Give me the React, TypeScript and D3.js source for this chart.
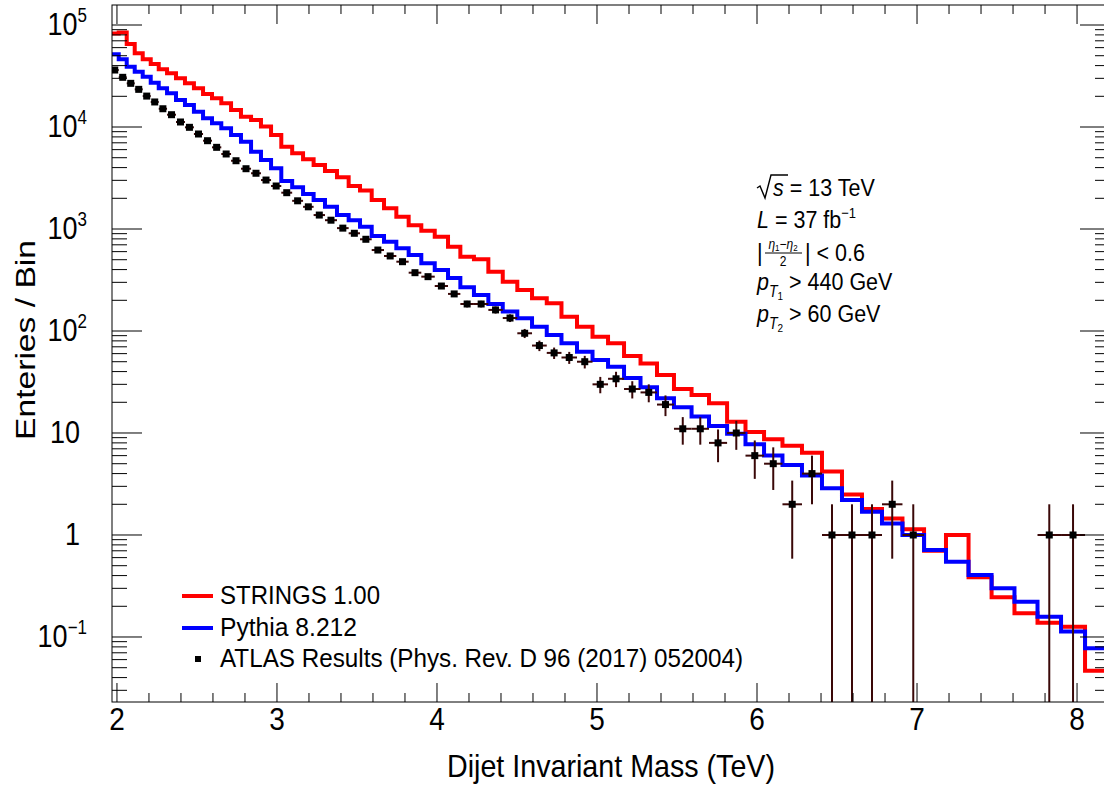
import React from "react";
import * as d3 from "d3";

// Bin edges (TeV)
const binEdgesTeV = [1.961, 2.011, 2.061, 2.111, 2.161, 2.211, 2.261, 2.313, 2.369, 2.425, 2.481, 2.538, 2.594, 2.652, 2.713, 2.775, 2.838, 2.9, 2.963, 3.027, 3.095, 3.163, 3.229, 3.3, 3.375, 3.448, 3.519, 3.592, 3.669, 3.746, 3.823, 3.902, 3.986, 4.069, 4.146, 4.231, 4.321, 4.411, 4.502, 4.594, 4.686, 4.778, 4.875, 4.972, 5.069, 5.169, 5.272, 5.375, 5.481, 5.591, 5.7, 5.813, 5.928, 6.044, 6.159, 6.281, 6.406, 6.531, 6.656, 6.781, 6.909, 7.044, 7.181, 7.322, 7.466, 7.609, 7.753, 7.9, 8.05, 8.206];

const stringsCounts = [82500, 84400, 65100, 52800, 46100, 41500, 36800, 33600, 30000, 26800, 24000, 21100, 19100, 17100, 14700, 12600, 11700, 10100, 8350, 6410, 5520, 4830, 4240, 3700, 3210, 2640, 2380, 1920, 1600, 1320, 1090, 962, 841, 671, 535, 505, 381, 304, 252, 209, 187, 138, 110, 88, 76, 57, 48, 37, 27, 23.6, 19.6, 12.9, 10.2, 8.7, 7.5, 6.4, 4.2, 2.5, 1.8, 1.45, 1.14, 0.7, 1.0, 0.385, 0.245, 0.171, 0.138, 0.126, 0.0467];

const pythiaCounts = [51600, 46100, 39000, 34800, 31100, 27200, 24000, 21400, 18400, 16400, 14100, 12200, 10900, 9710, 8350, 7180, 5730, 4750, 3940, 2960, 2560, 2200, 1920, 1650, 1370, 1220, 1050, 854, 751, 647, 556, 461, 396, 331, 268, 225, 184, 155, 133, 110, 91.4, 75.8, 62.7, 52, 44.7, 34.6, 28.1, 21.9, 17.9, 14.5, 11.7, 9.84, 7.77, 6.02, 4.86, 3.83, 2.87, 2.2, 1.69, 1.3, 1.0, 0.713, 0.547, 0.405, 0.3, 0.222, 0.158, 0.113, 0.0775];

const atlasCounts = [36200, 30700, 26800, 23400, 20100, 17600, 15100, 13200, 11200, 9930, 8540, 7340, 6320, 5440, 4670, 3900, 3520, 3020, 2640, 2270, 1890, 1650, 1370, 1220, 1020, 908, 793, 622, 544, 478, 373, 341, 276, 231, 184, 184, 161, 134, 95, 72, 61, 55, 50, 30, 34, 27, 25, 19, 11, 11, 8, 10, 6, 5, 2, 4, 1, 1, 1, 2, 1, 0, 0, 0, 0, 0, 1, 1, 0];

const xMajorTicks = [2, 3, 4, 5, 6, 7, 8];
const xTickLabels = ["2", "3", "4", "5", "6", "7", "8"];
const yDecades = [-1, 0, 1, 2, 3, 4, 5];

const legendLabels = ["STRINGS 1.00", "Pythia 8.212", "ATLAS Results (Phys. Rev. D 96 (2017) 052004)"];

const FONT = "'Liberation Sans', Arial, Helvetica, sans-serif";
const SY = 1.15; // vertical stretch of the reference's glyphs

function HText(props: any) {
  const { x, y, size, anchor, children, length } = props;
  return (
    <g transform={`translate(${x},${y}) scale(1,${SY})`}>
      <text x={0} y={0} fontSize={size} textAnchor={anchor || "start"} fontFamily={FONT} fill="#000"
        textLength={length} lengthAdjust={length ? "spacingAndGlyphs" : undefined}>
        {children}
      </text>
    </g>
  );
}

export default function App() {
  const W = 1104, H = 787;
  const L = 112, R = 1110, T = 5, B = 702;
  const x = d3.scaleLinear().domain([1.969, 8.206]).range([L, R]);
  const y = d3.scaleLog().domain([0.02305, 157100]).range([B, T]);

  const histPath = (vals: number[]) => {
    const pts: [number, number][] = vals.map((v, i) => [binEdgesTeV[i], v]);
    pts.push([binEdgesTeV[vals.length], vals[vals.length - 1]]);
    return d3.line<[number, number]>().x((d) => x(d[0])).y((d) => y(d[1])).curve(d3.curveStepAfter)(pts) || "";
  };

  const xMinor: number[] = [];
  for (let i = 0; i <= 32; i++) {
    const v = 2 + i * 0.2;
    if (v <= 8.2 && Math.abs(v - Math.round(v)) > 1e-6) xMinor.push(v);
  }
  const yMinor: number[] = [];
  for (let n = -2; n <= 5; n++) for (let k = 2; k <= 9; k++) {
    const v = k * Math.pow(10, n);
    if (v > 0.02305 && v < 157100) yMinor.push(v);
  }

  const errColor = "#3a0808";

  return (
    <svg width={W} height={H} style={{ position: "absolute", left: 0, top: 0, background: "#fff" }}>
      <defs>
        <clipPath id="frame"><rect x={L} y={T} width={R - L} height={B - T} /></clipPath>
      </defs>
      <rect x={0} y={0} width={W} height={H} fill="#fff" />

      <g clipPath="url(#frame)">
        <path d={histPath(stringsCounts)} fill="none" stroke="#ff0000" strokeWidth={4} />
        <path d={histPath(pythiaCounts)} fill="none" stroke="#0000ff" strokeWidth={4} />
        {atlasCounts.map((v, i) => {
          if (v <= 0) return null;
          const x0 = x(binEdgesTeV[i]), x1 = x(binEdgesTeV[i + 1]);
          const xc = (x0 + x1) / 2;
          const e = Math.sqrt(v);
          const lo = v - e > 0 ? y(v - e) : B + 5;
          const hi = y(v + e);
          return (
            <g key={i}>
              <line x1={xc} x2={xc} y1={hi} y2={lo} stroke={errColor} strokeWidth={2} />
              <line x1={x0} x2={x1} y1={y(v)} y2={y(v)} stroke={errColor} strokeWidth={2} />
              <rect x={xc - 3.5} y={y(v) - 3.5} width={7} height={7} fill="#000" />
            </g>
          );
        })}
      </g>

      <rect x={L} y={T} width={R - L} height={B - T} fill="none" stroke="#000" strokeWidth={1} />

      {xMajorTicks.map((v) => (
        <g key={"xm" + v}>
          <line x1={x(v)} x2={x(v)} y1={B} y2={B - 19} stroke="#000" />
          <line x1={x(v)} x2={x(v)} y1={T} y2={T + 19} stroke="#000" />
        </g>
      ))}
      {xMinor.map((v) => (
        <g key={"xn" + v}>
          <line x1={x(v)} x2={x(v)} y1={B} y2={B - 9} stroke="#000" />
          <line x1={x(v)} x2={x(v)} y1={T} y2={T + 9} stroke="#000" />
        </g>
      ))}
      {yDecades.map((n) => (
        <g key={"ym" + n}>
          <line x1={L} x2={L + 30} y1={y(Math.pow(10, n))} y2={y(Math.pow(10, n))} stroke="#000" />
          <line x1={R} x2={R - 30} y1={y(Math.pow(10, n))} y2={y(Math.pow(10, n))} stroke="#000" />
        </g>
      ))}
      {yMinor.map((v, i) => (
        <g key={"yn" + i}>
          <line x1={L} x2={L + 15} y1={y(v)} y2={y(v)} stroke="#000" />
          <line x1={R} x2={R - 15} y1={y(v)} y2={y(v)} stroke="#000" />
        </g>
      ))}

      {xMajorTicks.map((v, i) => (
        <HText key={"xl" + v} x={x(v)} y={730} size={28} anchor="middle">{xTickLabels[i]}</HText>
      ))}
      {yDecades.map((n) => {
        const yy = y(Math.pow(10, n)) + 10;
        if (n === 0) return <HText key={"yl" + n} x={80} y={yy} size={27} anchor="end">1</HText>;
        if (n === 1) return <HText key={"yl" + n} x={80} y={yy} size={27} anchor="end">10</HText>;
        return (
          <HText key={"yl" + n} x={87} y={yy} size={27} anchor="end">
            10<tspan fontSize={17} dy={-11}>{n < 0 ? "\u2212" + Math.abs(n) : String(n)}</tspan>
          </HText>
        );
      })}

      <HText x={611} y={777} size={28} anchor="middle" length={328}>Dijet Invariant Mass (TeV)</HText>
      <g transform="translate(35,340) rotate(-90)">
        <text x={0} y={0} fontSize={27} textAnchor="middle" fontFamily={FONT} textLength={200} lengthAdjust="spacingAndGlyphs">Enteries / Bin</text>
      </g>

      {/* annotation */}
      <path d="M757,188 L760,186 L765,198 L771,175 L788,175" fill="none" stroke="#000" strokeWidth={1.4} />
      <HText x={773} y={196} size={21.5} anchor="start"><tspan fontStyle="italic">s</tspan> = 13 TeV</HText>
      <HText x={757} y={228} size={21.5} anchor="start">
        <tspan fontStyle="italic">L</tspan> =  37 fb<tspan fontSize={13} dy={-9}>{"\u22121"}</tspan>
      </HText>
      <HText x={757} y={261} size={21.5} anchor="start">|</HText>
      <HText x={783} y={249} size={12} anchor="middle">
        <tspan fontStyle="italic">{"\u03b7"}</tspan><tspan fontSize={8} dy={2}>1</tspan><tspan dy={-2}>{"\u2212"}</tspan><tspan fontStyle="italic">{"\u03b7"}</tspan><tspan fontSize={8} dy={2}>2</tspan>
      </HText>
      <line x1={765} x2={802} y1={253} y2={253} stroke="#000" strokeWidth={1} />
      <HText x={783} y={266} size={12} anchor="middle">2</HText>
      <HText x={805} y={261} size={21.5} anchor="start">| &lt; 0.6</HText>
      <HText x={757} y={290} size={21.5} anchor="start">
        <tspan fontStyle="italic">p</tspan><tspan fontSize={14} fontStyle="italic" dy={6}>T</tspan><tspan fontSize={10} dy={3}>1</tspan><tspan dy={-9}> &gt; 440 GeV</tspan>
      </HText>
      <HText x={757} y={322} size={21.5} anchor="start">
        <tspan fontStyle="italic">p</tspan><tspan fontSize={14} fontStyle="italic" dy={6}>T</tspan><tspan fontSize={10} dy={3}>2</tspan><tspan dy={-9}> &gt; 60 GeV</tspan>
      </HText>

      {/* legend */}
      <line x1={182} x2={213} y1={596} y2={596} stroke="#ff0000" strokeWidth={4} />
      <HText x={220} y={604} size={23} anchor="start" length={160}>{legendLabels[0]}</HText>
      <line x1={182} x2={213} y1={628} y2={628} stroke="#0000ff" strokeWidth={4} />
      <HText x={220} y={636} size={23} anchor="start" length={137}>{legendLabels[1]}</HText>
      <rect x={195} y={656} width={6} height={6} fill="#000" />
      <HText x={220} y={667} size={23} anchor="start" length={523}>{legendLabels[2]}</HText>
    </svg>
  );
}
